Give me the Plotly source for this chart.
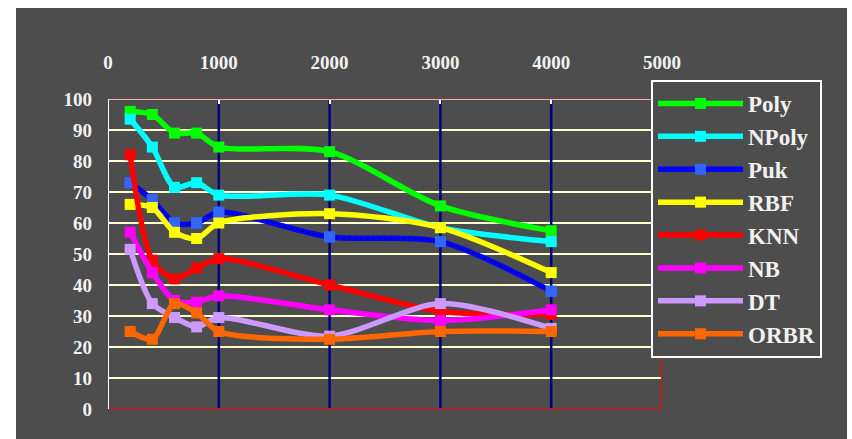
import plotly.graph_objects as go

x_vals = [200, 400, 600, 800, 1000, 2000, 3000, 4000]

poly = [96, 95, 89, 89, 84.5, 83, 65.5, 57.5]
npoly = [93.5, 84.5, 71.5, 73, 69, 69, 58.5, 54]
puk = [73, 67.5, 60, 60, 63.5, 55.5, 54, 38]
rbf = [66, 65, 57, 55, 60, 63, 58.5, 44]
knn = [82, 48, 42, 45.5, 48.5, 40, 31.5, 30.5]
nb = [57, 44, 35, 34.5, 36.5, 32, 28.5, 32]
dt = [51.5, 34, 29.5, 26.5, 29.5, 23.5, 34, 26]
orbr = [25, 22.5, 34, 31, 25, 22.5, 25, 25]

series_names = ["Poly", "NPoly", "Puk", "RBF", "KNN", "NB", "DT", "ORBR"]
series_values = [poly, npoly, puk, rbf, knn, nb, dt, orbr]
line_colors = ["#00ff00", "#00ffff", "#0000ff", "#ffff00", "#ff0000", "#ff00ff", "#cc99ff", "#ff6600"]
marker_colors = ["#00ff00", "#00ffff", "#3366ff", "#ffff00", "#ff0000", "#ff00ff", "#cc99ff", "#ff6600"]

x_ticks = [0, 1000, 2000, 3000, 4000, 5000]
y_ticks = [0, 10, 20, 30, 40, 50, 60, 70, 80, 90, 100]

BG = "#4d4d4d"
TXT = "#f2f2f2"
SERIF = "Times New Roman, Liberation Serif, DejaVu Serif, serif"

fig = go.Figure()
for name, vals, lc, mc in zip(series_names, series_values, line_colors, marker_colors):
    fig.add_trace(go.Scatter(
        x=x_vals, y=vals, name=name, mode="lines+markers",
        line=dict(color=lc, width=5.5, shape="spline", smoothing=0.8),
        marker=dict(symbol="square", size=11, color=mc),
    ))
    if name == "Puk":
        # dotted texture on the Puk line
        fig.add_trace(go.Scatter(
            x=x_vals, y=vals, mode="lines", showlegend=False, hoverinfo="skip",
            line=dict(color="#000099", width=1.5, dash="dot", shape="spline", smoothing=0.8),
        ))
        fig.add_trace(go.Scatter(
            x=x_vals, y=vals, mode="markers", showlegend=False, hoverinfo="skip",
            marker=dict(symbol="square", size=11, color=mc),
        ))

# geometry of plot area in px
L, R, T, B = 108, 190, 99, 30
W, H = 852, 439
pw, ph = W - L - R, H - T - B

def px_x(p):
    return (p - L) / pw

def px_y(p):
    return (H - B - p) / ph

shapes = [
    dict(type="rect", xref="paper", yref="paper", x0=px_x(16), x1=px_x(847),
         y0=px_y(439), y1=px_y(8), fillcolor=BG, line=dict(width=0), layer="below"),
]
for xv in x_ticks[1:-1]:
    shapes.append(dict(type="line", xref="x", yref="y", x0=xv, x1=xv, y0=0, y1=100,
                       line=dict(color="#000080", width=2.5), layer="between"))
shapes += [
    dict(type="line", xref="x", yref="y", x0=0, x1=5000, y0=100, y1=100,
         line=dict(color="#ffaaaa", width=2), layer="above"),
    dict(type="line", xref="x", yref="y", x0=0, x1=5000, y0=0, y1=0,
         line=dict(color="#ff0000", width=2), layer="above"),
    dict(type="line", xref="x", yref="y", x0=5000, x1=5000, y0=0, y1=100,
         line=dict(color="#ff0000", width=2), layer="above"),
    dict(type="line", xref="x", yref="y", x0=0, x1=0, y0=0, y1=100,
         line=dict(color="#ffffff", width=2), layer="above"),
]

tick_font = dict(family=SERIF, size=19, color=TXT, weight="bold")

fig.update_layout(
    width=W, height=H,
    margin=dict(l=L, r=R, t=T, b=B, pad=0),
    paper_bgcolor="#ffffff",
    plot_bgcolor="rgba(0,0,0,0)",
    shapes=shapes,
    xaxis=dict(range=[0, 5000], side="top", tickvals=x_ticks,
               ticktext=[str(v) for v in x_ticks], showgrid=False, zeroline=False,
               showline=False, ticks="inside", ticklen=5, tickwidth=2, tickcolor="#ffffff",
               tickfont=tick_font, ticklabelstandoff=25, fixedrange=True),
    yaxis=dict(range=[0, 100], tickvals=y_ticks, ticktext=[str(v) for v in y_ticks],
               showgrid=True, gridcolor="#ffffcc", gridwidth=2, zeroline=False,
               showline=False, ticks="inside", ticklen=6, tickwidth=2, tickcolor="#ffffff",
               tickfont=tick_font, ticklabelstandoff=15, fixedrange=True),
    legend=dict(x=px_x(651), y=px_y(80), xanchor="left", yanchor="top",
                bgcolor=BG, bordercolor="#ffffff", borderwidth=2,
                font=dict(family=SERIF, size=23, color=TXT, weight="bold"),
                itemwidth=85, tracegroupgap=0, maxheight=1.0),
    showlegend=True,
)

fig.write_html("out.html")
